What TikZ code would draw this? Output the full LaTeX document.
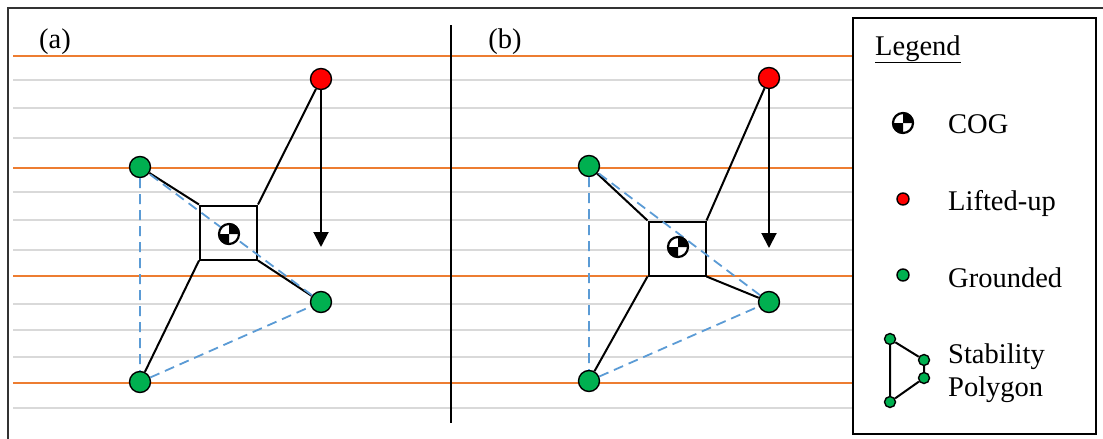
\documentclass[tikz,border=0pt]{standalone}
\usepackage{fontspec}
\setmainfont{Liberation Serif}
\usetikzlibrary{arrows.meta}

\definecolor{ruleorange}{HTML}{ED7D31}
\definecolor{rulegray}{HTML}{D9D9D9}
\definecolor{polyblue}{HTML}{5B9BD5}
\definecolor{footgreen}{HTML}{00B050}

\begin{document}
\begin{tikzpicture}[x=1pt,y=-1pt,
    foot/.style={circle,draw,line width=1.4pt,minimum size=21pt,inner sep=0pt,fill=footgreen},
    lifted/.style={foot,fill=red},
    smallfoot/.style={foot,minimum size=12pt},
    tinyfoot/.style={foot,minimum size=11pt},
    body/.style={draw,line width=2pt,minimum width=57pt,minimum height=54pt,inner sep=0pt},
    leg/.style={line width=2pt},
    poly/.style={polyblue,line width=1.8pt,dash pattern=on 10pt off 6pt},
    txt/.style={font=\rmfamily\fontsize{28.5}{33}\selectfont,inner sep=0pt},
    cogsym/.pic={
        \fill[white] (0,0) circle[radius=11];
        \fill (0,0) -- (11,0) arc[start angle=0,end angle=-90,radius=11] -- cycle;
        \fill (0,0) -- (0,11) arc[start angle=90,end angle=180,radius=11] -- cycle;
        \draw[line width=2.2pt] (0,0) circle[radius=10];
    },
]
    \useasboundingbox (0,0) rectangle (1103,439);

    % ruled background
    \foreach \y in {80,108,138,192,220,250,304,330,357,408}
        \draw[rulegray,line width=2pt] (13,\y) -- (852,\y);
    \foreach \y in {56,168,276,383}
        \draw[ruleorange,line width=2pt] (13,\y) -- (852,\y);

    \draw[black!80,line width=2pt] (1103,8) -- (8,8) -- (8,439);
    \draw[line width=2pt] (451,25) -- (451,423);

    % (a)
    \node[txt] (alabel) at (55,42) {(a)};
    \node[lifted] (ared) at (321,79) {};
    \node[foot] (atl) at (140,167) {};
    \node[foot] (ar) at (321,302) {};
    \node[foot] (abl) at (140,382) {};
    \node[body] (abody) at (228.5,232.5) {};
    \coordinate (aend) at (321,247);
    \draw[leg] (ared) -- (abody.north east) (atl) -- (abody.north west)
        (ar) -- (abody.south east) (abl) -- (abody.south west);
    \draw[poly] (atl) -- (abl) -- (ar) -- (atl);
    \draw[leg,-{Triangle[length=15pt,width=15pt]}] (ared) -- (aend);
    \pic at (229,234) {cogsym};

    % (b)
    \node[txt] (blabel) at (505,42) {(b)};
    \node[lifted] (bred) at (769,78) {};
    \node[foot] (btl) at (589,166) {};
    \node[foot] (br) at (769,302) {};
    \node[foot] (bbl) at (589,381) {};
    \node[body] (bbody) at (677,248.5) {};
    \coordinate (bend) at (769,248);
    \draw[leg] (bred) -- (bbody.north east) (btl) -- (bbody.north west)
        (br) -- (bbody.south east) (bbl) -- (bbody.south west);
    \draw[poly] (btl) -- (bbl) -- (br) -- (btl);
    \draw[leg,-{Triangle[length=15pt,width=15pt]}] (bred) -- (bend);
    \pic at (678,247) {cogsym};

    % legend
    \draw[line width=2.2pt] (853,18) rectangle (1096,434);
    \node[txt,anchor=base west] (legtitle) at (875,55) {\underline{Legend}};
    \pic at (903,123) {cogsym};
    \node[txt,anchor=base west] (legcog) at (948,133) {COG};
    \node[smallfoot,fill=red] (legred) at (903,199) {};
    \node[txt,anchor=base west] (leglift) at (948,210) {Lifted-up};
    \node[smallfoot] (leggreen) at (903,275) {};
    \node[txt,anchor=base west] (legground) at (948,287) {Grounded};
    \node[tinyfoot] (p1) at (890,339) {};
    \node[tinyfoot] (p2) at (924,360) {};
    \node[tinyfoot] (p3) at (924,378) {};
    \node[tinyfoot] (p4) at (890,402) {};
    \draw[leg] (p1) -- (p2) -- (p3) -- (p4) -- (p1);
    \node[txt,anchor=west,align=left] (legpoly) at (948,373) {Stability\\Polygon};
\end{tikzpicture}
\end{document}
